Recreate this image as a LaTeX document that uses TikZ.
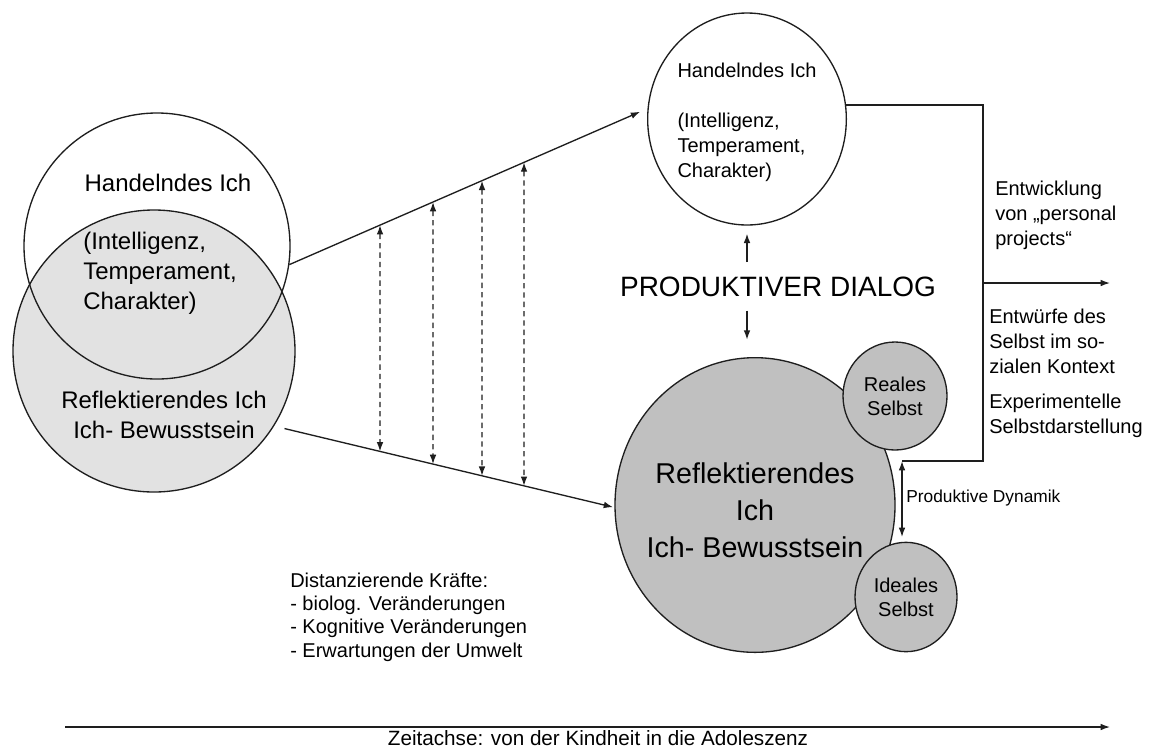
\documentclass[tikz,border=0pt]{standalone}
\usepackage{fontspec}
\setmainfont{Liberation Sans}
\usetikzlibrary{arrows.meta,shapes.geometric,calc}
\definecolor{strich}{HTML}{1E1E1E}
\definecolor{hgrau}{HTML}{E2E2E2}
\definecolor{dgrau}{HTML}{C0C0C0}
\tikzset{
  kreis/.style={ellipse,draw=strich,line width=1pt,inner sep=0pt},
  linie/.style={strich,line width=1pt},
  pfeil/.style={-{Latex[length=7pt,width=5pt]},strich,line width=1pt},
  dpfeil/.style={{Latex[length=7pt,width=5pt]}-{Latex[length=7pt,width=5pt]},strich,line width=1pt},
  gpfeil/.style={dpfeil,dash pattern=on 4pt off 3pt},
  txt/.style={inner sep=0pt,align=left,text=black},
  gross/.style={txt,font=\fontsize{18}{22.5}\selectfont},
  klein/.style={txt,font=\fontsize{15}{18.75}\selectfont},
}

\begin{document}
\begin{tikzpicture}[x=0.75pt,y=-0.75pt]
  \fill[white] (0,0) rectangle (1155,751);
  \useasboundingbox (0,0) rectangle (1155,751);
  % Kindheit
  \node[kreis,fill=hgrau,minimum width=211.5pt,minimum height=211.5pt] (rl) at (154,351) {};
  \node[kreis,minimum width=199.5pt,minimum height=199.5pt] (hl) at (157,246) {};
  \node[gross] (hl-titel) at (168,183) {Handelndes Ich};
  \node[gross,anchor=west] (hl-text) at (83,273) {(Intelligenz,\\Temperament,\\Charakter)};
  \node[gross,align=center] (rl-text) at (164,415) {Reflektierendes Ich\\Ich- Bewusstsein};
  % Adoleszenz
  \node[kreis,fill=white,minimum width=149pt,minimum height=159pt] (hr) at (747,119) {};
  \node[klein] (hr-text) at (747,122) {Handelndes Ich\\[18.75pt](Intelligenz,\\Temperament,\\Charakter)};
  \node[kreis,fill=dgrau,minimum width=210pt,minimum height=221pt] (rr) at (755,505) {};
  \node[txt,align=center,font=\fontsize{21.5}{27.75}\selectfont] (rr-text) at (755,510) {Reflektierendes\\Ich\\Ich- Bewusstsein};
  \node[kreis,fill=dgrau,minimum width=78pt,minimum height=81pt,align=center,font=\fontsize{15}{18}\selectfont] (reales) at (895,396) {Reales\\Selbst};
  \node[kreis,fill=dgrau,minimum width=76.5pt,minimum height=82pt,align=center,font=\fontsize{15}{18}\selectfont] (ideales) at (906,597) {Ideales\\Selbst};
  \node[txt,font=\fontsize{21}{25}\selectfont] (dialog) at (778,287) {PRODUKTIVER DIALOG};
  % Entwicklungslinien
  \coordinate (hl-aus) at (hl.-8);
  \coordinate (hr-ein) at (hr.174);
  \coordinate (rl-aus) at (rl.-32);
  \coordinate (rr-ein) at (rr.181);
  \draw[pfeil,shorten >=6pt] (hl-aus) -- (hr-ein);
  \draw[pfeil,shorten <=8pt,shorten >=1pt] (rl-aus) -- (rr-ein);
  \foreach \x in {380,433,482,524}
    \draw[gpfeil] (intersection of hl-aus--hr-ein and \x,0--\x,100)
      -- (intersection of rl-aus--rr-ein and \x,0--\x,100);
  \draw[pfeil,shorten <=11pt,shorten >=6pt] (dialog.north -| hr.south) -- (hr.south);
  \draw[pfeil,shorten <=10pt,shorten >=13pt] (dialog.south -| hr.south) -- (hr.south |- rr.north);
  % rechts
  \coordinate (ecke) at (983,283);
  \coordinate (ausgang) at (1110,283);
  \coordinate (dyn-oben) at (902,461);
  \coordinate (dyn-unten) at (902,537);
  \draw[linie] (hr.8) -| (ecke) |- (dyn-oben);
  \draw[pfeil] (ecke) -- (ausgang);
  \draw[dpfeil] (dyn-oben) -- (dyn-unten);
  \node[klein,anchor=west] (entw) at (995,215) {Entwicklung\\von „personal\\projects“};
  \node[klein,anchor=west] (entwuerfe) at (989,341) {Entwürfe des\\Selbst im so-\\zialen Kontext};
  \node[klein,anchor=west] (exp) at (989,416) {Experimentelle\\Selbstdarstellung};
  \node[txt,anchor=west,font=\fontsize{13}{16}\selectfont] (dyn-text) at (906,498) {Produktive Dynamik};
  \node[txt,anchor=west,font=\fontsize{15}{17.5}\selectfont] (dist) at (290,617) {Distanzierende Kräfte:\\- biolog. Veränderungen\\- Kognitive Veränderungen\\- Erwartungen der Umwelt};
  % Zeitachse
  \coordinate (zeit-a) at (65,727);
  \coordinate (zeit-e) at (1110,727);
  \draw[pfeil] (zeit-a) -- (zeit-e);
  \node[txt,font=\fontsize{15.5}{18}\selectfont] (zeit) at (598,738) {Zeitachse: von der Kindheit in die Adoleszenz};
\end{tikzpicture}
\end{document}
